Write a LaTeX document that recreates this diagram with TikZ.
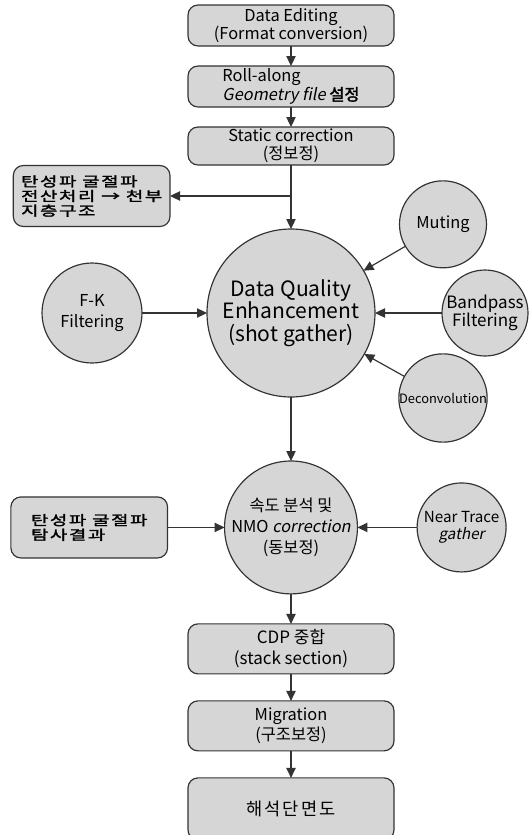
\documentclass[tikz,border=0pt]{standalone}
\usepackage{fontspec}
\setmainfont{Noto Sans CJK KR}[AutoFakeSlant=0.2,AutoFakeBold=2]
\usetikzlibrary{arrows.meta,positioning,calc}
\definecolor{LineGray}{HTML}{333333}
\definecolor{FillGray}{HTML}{D6D6D6}
\newcommand{\sz}[2]{\fontsize{#1}{#2}\selectfont}
\newcommand{\wide}{\addfontfeature{LetterSpace=12}}
\newcommand{\broad}{\addfontfeature{FakeStretch=1.4,LetterSpace=12}}

\begin{document}
\begin{tikzpicture}[node distance=6mm, every node/.style={inner sep=0pt,outer sep=0pt},
 box/.style={draw=LineGray,line width=1pt,rounded corners=3mm,fill=FillGray,minimum width=61.8mm,align=center,font=\sz{14}{15}},
 sidebox/.style={box,minimum width=47mm,minimum height=18.3mm,align=left,font=\sz{11.5}{12.5}\bfseries\broad},
 bubble/.style={circle,draw=LineGray,line width=1pt,fill=FillGray,align=center},
 arr/.style={-{Triangle[length=3mm,width=2.8mm]},line width=1pt,LineGray}]
\useasboundingbox (0,0) rectangle (159mm,-250.5mm);
% main column
\node[box,minimum height=12.3mm] (edit) at (87.3mm,-7.65mm) {Data Editing\\(Format conversion)};
\node[box,minimum height=12.3mm,below=of edit,align=left] (geom) {Roll-along\\\textit{Geometry file} \textbf{설정}};
\node[box,minimum height=11.4mm,below=of geom] (static) {Static correction\\(정보정)};
\coordinate[below=9.3mm of static] (split);
\node[sidebox,left=36.3mm of split] (refr1) {탄성파 굴절파\\전산처리 → 천부\\지층구조};
\node[bubble,minimum size=50.4mm,below=19.2mm of static,font=\sz{18}{19}] (dqe) {Data Quality\\Enhancement\\(shot gather)};
% satellites of the shot gather step
\node[bubble,minimum size=30mm,left=19.5mm of dqe,font=\sz{14}{18.5}] (fk) {F-K\\Filtering};
\node[bubble,minimum size=26.1mm,font=\sz{14}{15}] (mute) at ($(dqe)+(45.6mm,26.6mm)$) {Muting};
\node[bubble,minimum size=25.8mm,right=20.1mm of dqe,font=\sz{14.5}{15.5}] (band) {Bandpass\\Filtering};
\node[bubble,minimum size=26.1mm,font=\sz{11}{13}] (decon) at ($(dqe)+(45.6mm,-25.5mm)$) {Deconvolution};
% velocity analysis
\node[bubble,minimum size=38.1mm,below=19.2mm of dqe,font=\sz{14}{18}] (nmo) {속도 분석 및\\NMO \textit{correction}\\(동보정)};
\node[sidebox,left=17.1mm of nmo] (refr2) {탄성파 굴절파\\탐사결과};
\node[bubble,minimum size=26.7mm,right=17.9mm of nmo,font=\sz{13}{14}] (near) {Near Trace\\\textit{gather}};
\node[box,minimum height=15mm,below=9mm of nmo,font=\sz{14.5}{18}] (cdp) {CDP 중합\\(stack section)};
\node[box,minimum height=15mm,below=8.1mm of cdp,font=\sz{14}{17}] (mig) {Migration\\(구조보정)};
\node[box,minimum height=18.6mm,below=8.1mm of mig,font=\sz{15}{16}\wide] (result) {해석단면도};
% connectors
\draw[arr] (edit) -- (geom);
\draw[arr] (geom) -- (static);
\draw[arr] (static) -- (dqe);
\draw[arr] (split) -- (refr1);
\draw[arr] (fk) -- (dqe);
\draw[arr] (mute) -- (dqe);
\draw[arr] (band) -- (dqe);
\draw[arr] (decon) -- (dqe);
\draw[arr] (dqe) -- (nmo);
\draw[arr] (refr2) -- (nmo);
\draw[arr] (near) -- (nmo);
\draw[arr] (nmo) -- (cdp);
\draw[arr] (cdp) -- (mig);
\draw[arr] (mig) -- (result);
\end{tikzpicture}
\end{document}
